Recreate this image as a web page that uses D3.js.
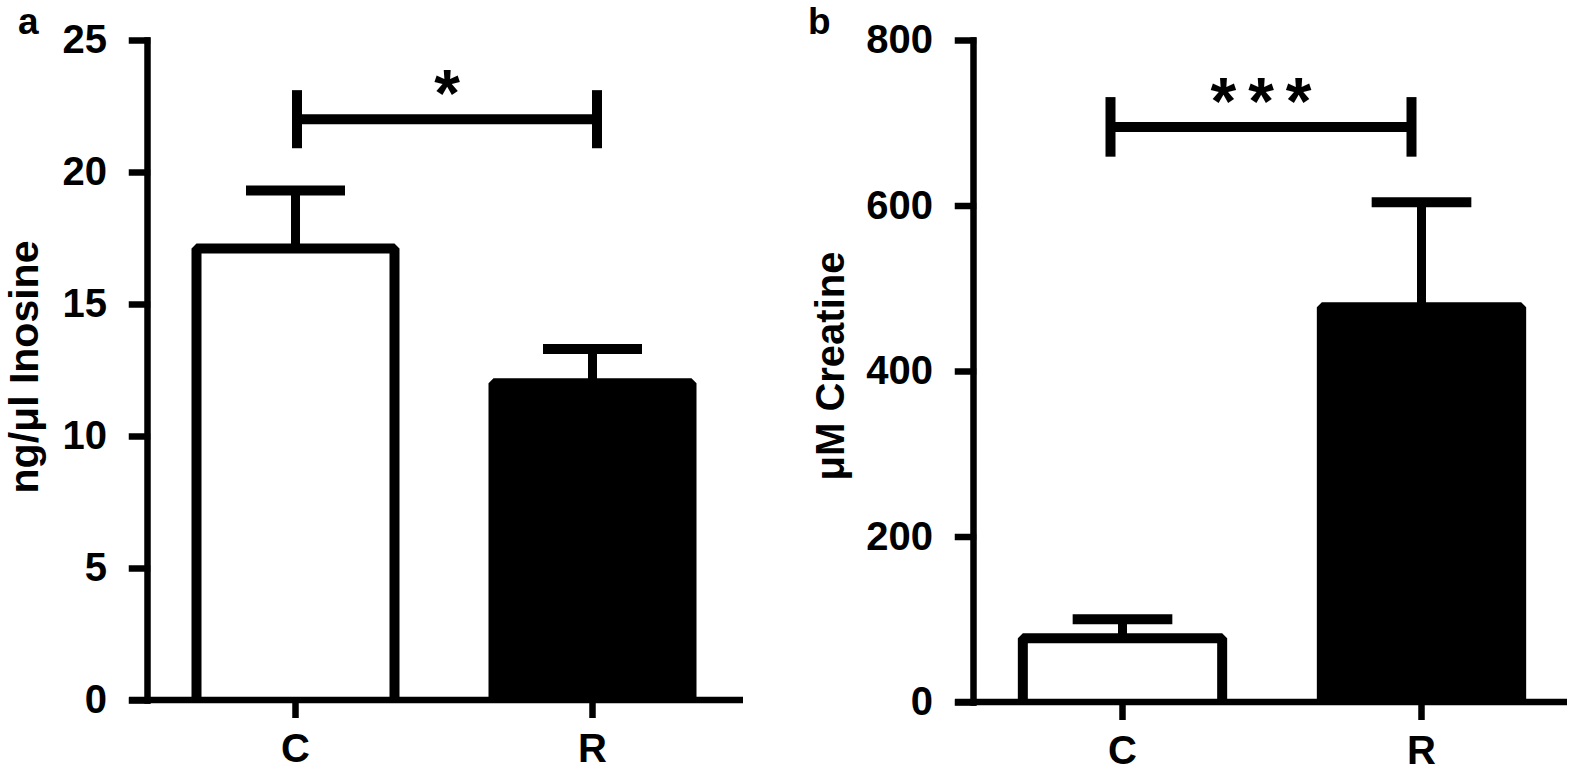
<!DOCTYPE html>
<html><head><meta charset="utf-8">
<script src="https://cdn.jsdelivr.net/npm/d3@7"></script>
<style>
body{margin:0;background:#fff}
text{font-family:"Liberation Sans",Arial,sans-serif;font-weight:bold;fill:#000}
</style>
</head><body>
<svg id="chart" width="1575" height="772"></svg>
<script>
// ---- data ----
const categories = ["C", "R"];
const barFills = ["#ffffff", "#000000"];

const inosineMean = [17.1, 12.0];
const inosineSEM = [2.2, 1.3];
const inosineTicks = [0, 5, 10, 15, 20, 25];
const inosineSig = [20.9, 22.0, 23.1];   // bracket: low end, bar, high end
const inosineStars = "*";

const creatineMean = [77, 477];
const creatineSEM = [23, 127];
const creatineTicks = [0, 200, 400, 600, 800];
const creatineSig = [659, 695, 731];
const creatineStars = "***";

// ---- layout ----
const panels = [
  { letter: "a", title: "ng/\u03bcl Inosine", mean: inosineMean, sem: inosineSEM,
    ticks: inosineTicks, sig: inosineSig, stars: inosineStars,
    axisX: 147, xEnd: 743, bandEnd: 741, y0: 700, y1: 40,
    letterX: 18, titleX: 38, titleY: 367, titleFS: 41, bracketShift: [1.5, 4.5], starSpacing: 0 },
  { letter: "b", title: "\u03bcM Creatine", mean: creatineMean, sem: creatineSEM,
    ticks: creatineTicks, sig: creatineSig, stars: creatineStars,
    axisX: 973, xEnd: 1567, bandEnd: 1571, y0: 702, y1: 40,
    letterX: 808, titleX: 844, titleY: 366, titleFS: 40, bracketShift: [-12, -10], starSpacing: 12 }
];

const svg = d3.select("#chart");
const FS = 40;

panels.forEach(p => {
  const g = svg.append("g");
  const y = d3.scaleLinear().domain([0, d3.max(p.ticks)]).range([p.y0, p.y1]);
  const x = d3.scaleBand().domain(categories).range([p.axisX, p.bandEnd])
    .paddingInner(1/3).paddingOuter(1/6);
  const bw = x.bandwidth();

  // bars (open at the bottom, sitting on the axis)
  g.selectAll("path.bar").data(categories).join("path")
    .attr("class", "bar")
    .attr("d", (c, i) => {
      const l = x(c), r = x(c) + bw, t = y(p.mean[i]);
      return `M${l},${p.y0}V${t}H${r}V${p.y0}`;
    })
    .attr("fill", (c, i) => barFills[i])
    .attr("stroke", "#000").attr("stroke-width", 10)
    .attr("stroke-linejoin", "bevel");

  // error bars
  categories.forEach((c, i) => {
    const xc = x(c) + bw / 2;
    const top = y(p.mean[i] + p.sem[i]);
    g.append("line").attr("x1", xc).attr("x2", xc)
      .attr("y1", y(p.mean[i])).attr("y2", top)
      .attr("stroke", "#000").attr("stroke-width", 9);
    g.append("line").attr("x1", xc - bw * 0.25).attr("x2", xc + bw * 0.25)
      .attr("y1", top).attr("y2", top)
      .attr("stroke", "#000").attr("stroke-width", 10);
  });

  // y axis
  const yAxis = g.append("g").attr("transform", `translate(${p.axisX},0)`)
    .call(d3.axisLeft(y).tickValues(p.ticks).tickSize(15).tickSizeOuter(0).tickPadding(25));
  yAxis.select(".domain").attr("stroke-width", 6.5).attr("stroke-linecap", "square");
  yAxis.selectAll(".tick line").attr("stroke-width", 6.5).attr("stroke-linecap", "square");
  yAxis.selectAll(".tick text").attr("font-size", FS).attr("font-family", null);

  // x axis
  g.append("line").attr("x1", p.axisX - 18).attr("x2", p.xEnd)
    .attr("y1", p.y0).attr("y2", p.y0)
    .attr("stroke", "#000").attr("stroke-width", 6.5);
  const xAxis = g.append("g").attr("transform", `translate(0,${p.y0})`)
    .call(d3.axisBottom(x).tickSize(18).tickPadding(16));
  xAxis.select(".domain").remove();
  xAxis.selectAll(".tick line").attr("stroke-width", 6.5);
  xAxis.selectAll(".tick text").attr("font-size", FS).attr("font-family", null);

  // significance bracket
  const xl = x(categories[0]) + bw / 2 + p.bracketShift[0];
  const xr = x(categories[1]) + bw / 2 + p.bracketShift[1];
  const yb = y(p.sig[1]);
  g.append("line").attr("x1", xl).attr("x2", xr).attr("y1", yb).attr("y2", yb)
    .attr("stroke", "#000").attr("stroke-width", 10);
  [xl, xr].forEach(xx => {
    g.append("line").attr("x1", xx).attr("x2", xx)
      .attr("y1", y(p.sig[0])).attr("y2", y(p.sig[2]))
      .attr("stroke", "#000").attr("stroke-width", 10);
  });
  g.append("text").attr("x", (xl + xr) / 2 + p.starSpacing / 2).attr("y", yb)
    .attr("text-anchor", "middle").attr("font-size", 66)
    .attr("letter-spacing", p.starSpacing)
    .attr("dy", "-0.05em")
    .text(p.stars);

  // axis title
  g.append("text")
    .attr("transform", `translate(${p.titleX},${p.titleY}) rotate(-90)`)
    .attr("text-anchor", "middle").attr("font-size", p.titleFS)
    .text(p.title);

  // panel letter
  g.append("text").attr("x", p.letterX).attr("y", 34)
    .attr("font-size", 37).text(p.letter);
});
</script>
</body></html>
